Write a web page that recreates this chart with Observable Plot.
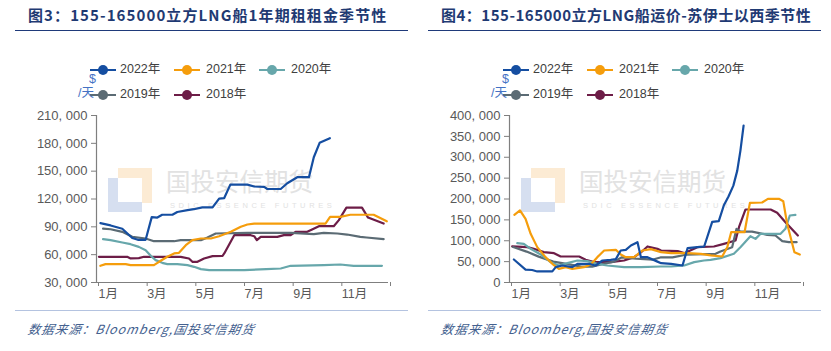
<!DOCTYPE html>
<html><head><meta charset="utf-8">
<script src="https://cdn.jsdelivr.net/npm/d3@7"></script>
<script src="https://cdn.jsdelivr.net/npm/@observablehq/plot@0.6"></script>
<style>
body{margin:0;background:#fff;}
#root{position:relative;width:831px;height:351px;overflow:hidden;background:#fff;font-family:"Liberation Sans",Arial,"Noto Sans CJK SC",sans-serif;}
.abs{position:absolute;white-space:nowrap;line-height:1;}
.title{font-family:"Noto Sans CJK SC",sans-serif;font-weight:700;font-size:15px;color:#1f3a73;}
.rule{position:absolute;height:0;}
.leg{font-size:12.5px;color:#404040;font-family:"Liberation Sans",Arial,"Noto Sans CJK SC",sans-serif;}
.unit{font-size:12.5px;color:#4472c4;font-family:"Liberation Sans","Noto Sans CJK SC",sans-serif;}
.foot{font-family:"Noto Sans CJK SC",sans-serif;font-style:italic;font-size:12.5px;color:#44618f;letter-spacing:1px;transform:skewX(-10deg);}
.wm{font-family:"Noto Sans CJK SC",sans-serif;color:#e2e2e2;}
</style>
</head><body><div id="root"></div>
<script>
// ---- data ----
const monthTicks = [1, 3, 5, 7, 9, 11, 13];
const seriesNames = ["2022年", "2021年", "2020年", "2019年", "2018年"];
const seriesColors = ["#154ea1", "#f59d0c", "#67a7ab", "#5b6b74", "#6d1d47"];
const leftTicks = [30000, 60000, 90000, 120000, 150000, 180000, 210000];
const rightTicks = [0, 50000, 100000, 150000, 200000, 250000, 300000, 350000, 400000];

// 图3 期租租金 ($/天), x = month (fractional)
const hire2022 = [[1.16,94000],[1.58,91500],[2.06,88000],[2.47,78000],[2.7,76000],[3.02,76000],[3.27,100500],[3.5,100000],[3.7,103000],[4.12,103000],[4.32,106000],[4.74,108000],[5.0,109000],[5.35,111000],[5.77,111000],[6.04,120500],[6.25,121000],[6.5,135500],[7.2,135500],[7.48,133500],[7.89,133000],[8.02,130800],[8.57,130800],[8.84,137000],[9.25,143500],[9.73,143500],[9.93,165000],[10.17,180500],[10.59,185500]];
const hire2021 = [[1.16,48000],[1.37,49800],[2.2,49800],[2.4,48700],[3.36,48700],[3.57,52300],[3.91,57700],[4.19,61300],[4.39,62000],[4.67,70200],[4.94,75600],[5.29,77400],[5.7,77400],[6.04,79900],[6.52,84600],[6.93,90000],[7.2,92500],[7.48,93500],[10.41,93500],[10.6,100700],[11.02,100700],[11.43,103000],[12.39,103000],[12.93,96000]];
const hire2020 = [[1.27,76700],[1.58,75600],[2.06,73100],[2.4,71300],[2.74,68400],[3.02,64800],[3.23,58800],[3.43,54100],[3.7,51200],[3.91,49800],[4.32,49800],[4.74,48700],[5.01,46900],[5.29,44400],[5.63,43300],[7.07,43300],[7.98,44400],[8.57,45100],[8.98,48000],[10.34,48700],[11.02,49400],[11.57,48000],[12.73,48000]];
const hire2019 = [[1.27,88100],[1.58,87400],[2.06,84600],[2.47,79200],[3.02,77400],[3.36,74500],[4.19,74500],[4.46,75600],[5.29,75600],[5.56,78500],[5.9,82800],[7.2,83500],[9.0,83500],[9.93,82100],[10.34,83500],[10.9,82800],[11.3,81700],[11.84,79200],[12.1,78500],[12.8,76700]];
const hire2018 = [[1.1,57700],[2.26,57700],[2.4,55900],[2.74,56300],[2.95,57700],[4.46,57700],[4.8,55900],[4.94,52300],[5.15,52300],[5.42,55900],[5.77,58400],[6.18,58800],[6.25,61300],[6.66,81000],[7.34,81000],[7.48,79900],[7.59,75600],[7.75,79200],[8.43,79200],[8.7,81000],[8.98,81000],[9.18,84600],[9.66,84600],[9.86,87100],[10.14,90700],[10.75,90700],[10.96,97200],[11.27,110700],[11.91,110700],[12.16,100000],[12.8,93500]];

// 图4 运价-苏伊士以西 ($/天)
const freight2022 = [[1.18,55000],[1.66,31000],[1.93,30000],[2.14,26500],[2.76,26500],[2.9,36700],[3.17,40700],[3.58,36700],[3.79,44700],[4.27,44700],[4.54,40700],[4.82,52700],[5.16,54300],[5.37,56000],[5.57,76700],[5.78,78300],[5.99,88700],[6.26,96600],[6.4,60700],[6.67,60700],[7.08,50000],[7.23,46300],[7.64,44700],[8.11,40700],[8.32,82300],[8.72,84700],[9.0,86300],[9.33,145000],[9.6,147000],[9.81,185000],[10.0,206000],[10.2,232000],[10.36,268000],[10.49,316000],[10.62,376000]];
const freight2021 = [[1.2,162000],[1.43,172500],[1.66,152600],[1.87,116600],[2.14,84700],[2.48,60700],[2.76,44700],[3.03,32700],[3.31,36700],[3.58,32700],[4.06,36700],[4.34,43100],[4.61,60700],[4.89,76700],[5.37,78300],[5.57,67100],[5.78,60700],[6.12,60700],[6.47,76700],[6.81,80000],[7.23,72700],[7.64,70300],[8.32,70300],[8.86,68700],[9.27,65000],[9.74,62300],[9.95,84600],[10.11,120500],[10.66,120500],[10.88,190800],[11.38,191600],[11.62,200400],[12.07,200400],[12.25,194800],[12.41,140500],[12.71,72600],[12.93,67100]];
const freight2020 = [[1.32,94200],[1.59,92600],[1.87,80700],[2.28,67100],[2.69,48700],[3.03,40700],[3.38,46300],[3.79,52700],[4.2,51100],[4.61,44700],[5.02,40700],[5.71,36700],[6.4,36700],[7.22,38300],[7.64,38300],[8.18,40700],[8.59,48700],[8.99,52700],[9.26,54300],[9.67,58300],[10.22,68700],[10.49,84600],[10.9,111000],[11.11,104500],[11.32,116600],[12.14,116600],[12.34,128600],[12.52,160500],[12.75,162000]];
const freight2019 = [[1.15,85000],[1.7,74000],[2.2,62000],[2.8,50000],[3.4,44000],[3.95,38000],[4.4,38000],[4.8,44000],[5.3,50000],[5.6,60000],[6.2,57000],[6.9,55000],[7.2,60000],[7.7,60000],[8.3,67000],[9.0,68000],[9.47,68700],[9.67,74300],[10.15,84600],[10.33,128600],[10.49,122000],[10.97,122000],[11.59,114200],[11.93,112600],[12.21,99000],[12.48,96600],[12.8,96600]];
const freight2018 = [[1.11,86300],[1.73,84700],[2.0,80700],[2.41,72700],[2.83,70300],[3.1,62300],[3.86,62300],[4.13,54300],[4.48,48700],[5.16,48700],[5.71,52700],[6.12,60700],[6.4,72000],[6.67,86300],[7.08,80700],[7.23,76700],[7.91,75100],[8.18,70300],[8.72,84700],[9.4,86200],[9.81,92600],[10.29,100600],[10.43,132500],[10.7,174900],[11.73,174900],[12.0,166900],[12.34,144500],[12.85,112600]];

const titleLeft = "图3：155-165000立方LNG船1年期租租金季节性";
const titleRight = "图4：155-165000立方LNG船运价-苏伊士以西季节性";
const sourceText = "数据来源：Bloomberg,国投安信期货";

// ---- drawing ----
const root = document.getElementById("root");
function el(tag, cls, css, text) {
  const e = document.createElement(tag);
  if (cls) e.className = cls;
  Object.assign(e.style, css || {});
  if (text != null) e.textContent = text;
  root.appendChild(e);
  return e;
}
const fmt = d3.format(",");

function panel(ox, title, titleSpacing, ticks, series) {
  el("div", "abs title", {left: (ox + 28) + "px", top: "7px", letterSpacing: titleSpacing}, title);
  el("div", "rule", {left: (ox + 15) + "px", top: "30px", width: "393px", borderTop: "1.6px solid #1f3a7a"});

  // watermark
  el("div", "abs", {left: (ox + 118) + "px", top: "168px", width: "34px", height: "35px", background: "#fcebd4"});
  el("div", "abs", {left: (ox + 108) + "px", top: "178px", width: "34px", height: "34px", background: "#d6dff0"});
  el("div", "abs", {left: (ox + 118) + "px", top: "178px", width: "24px", height: "24px", background: "#fff"});
  el("div", "abs wm", {left: (ox + 166) + "px", top: "169px", fontSize: "24.5px"}, "国投安信期货");
  el("div", "abs wm", {left: (ox + 170) + "px", top: "202px", fontSize: "7.5px", letterSpacing: "3.6px", fontFamily: "Liberation Sans, Arial"}, "SDIC ESSENCE FUTURES");

  // plot
  const rows = [];
  seriesNames.forEach((s, i) => series[i].forEach(([m, v]) => rows.push({s, m, v})));
  const drawOrder = [...seriesNames].reverse();
  const chart = Plot.plot({
    width: 415, height: 205,
    marginLeft: 96, marginRight: 27, marginTop: 15, marginBottom: 23,
    style: {background: "transparent", fontFamily: "Liberation Sans, Arial, Noto Sans CJK SC, sans-serif", fontSize: "13px", color: "#595959", overflow: "visible"},
    x: {domain: [1, 13]},
    y: {domain: [ticks[0], ticks[ticks.length - 1]]},
    color: {domain: seriesNames, range: seriesColors},
    marks: [
      Plot.axisX({ticks: monthTicks, tickFormat: d => d < 13 ? d + "月" : "", tickSize: 4, tickPadding: 3, textAnchor: "start", dx: 2, label: null, stroke: "#7f7f7f", fontSize: 12.5}),
      Plot.axisY({ticks: ticks, tickFormat: d => fmt(d).replace(/,/g, ", "), tickSize: 5, tickPadding: 4, label: null, stroke: "#7f7f7f"}),
      Plot.ruleX([1], {stroke: "#7f7f7f", strokeWidth: 1.2}),
      Plot.ruleY([ticks[0]], {stroke: "#7f7f7f", strokeWidth: 1.2}),
      ...drawOrder.map(s => Plot.line(rows.filter(r => r.s === s), {x: "m", y: "v", stroke: "s", strokeWidth: 2.2, strokeLinejoin: "round"}))
    ]
  });
  chart.style.position = "absolute";
  chart.style.left = ox + "px";
  chart.style.top = "100px";
  root.appendChild(chart);

  // legend
  const pos = [[103, 120, 70], [187, 206, 70], [272, 291, 70], [103, 120, 95], [187, 206, 95]];
  seriesNames.forEach((s, i) => {
    const [cx, tx, cy] = pos[i];
    const ns = "http://www.w3.org/2000/svg";
    const svg = document.createElementNS(ns, "svg");
    svg.setAttribute("width", 28); svg.setAttribute("height", 12);
    Object.assign(svg.style, {position: "absolute", left: (ox + cx - 14) + "px", top: (cy - 6) + "px"});
    const ln = document.createElementNS(ns, "line");
    ln.setAttribute("x1", 1); ln.setAttribute("x2", 27); ln.setAttribute("y1", 6); ln.setAttribute("y2", 6);
    ln.setAttribute("stroke", seriesColors[i]); ln.setAttribute("stroke-width", 2);
    const c = document.createElementNS(ns, "circle");
    c.setAttribute("cx", 14); c.setAttribute("cy", 6); c.setAttribute("r", 5);
    c.setAttribute("fill", seriesColors[i]);
    svg.appendChild(ln); svg.appendChild(c);
    root.appendChild(svg);
    el("div", "abs leg", {left: (ox + tx) + "px", top: (cy - 7) + "px"}, s);
  });
  el("div", "abs unit", {left: (ox + 89) + "px", top: "73px"}, "$");
  el("div", "abs unit", {left: (ox + 78) + "px", top: "87px"}, "/天");

  // footer
  el("div", "rule", {left: (ox + 15) + "px", top: "310px", width: "393px", borderTop: "1.5px solid #b4c3e0"});
  el("div", "abs foot", {left: (ox + 28) + "px", top: "323px"}, sourceText);
}

panel(0, titleLeft, "1.1px", leftTicks, [hire2022, hire2021, hire2020, hire2019, hire2018]);
panel(413, titleRight, "0.5px", rightTicks, [freight2022, freight2021, freight2020, freight2019, freight2018]);
</script>
</body></html>
